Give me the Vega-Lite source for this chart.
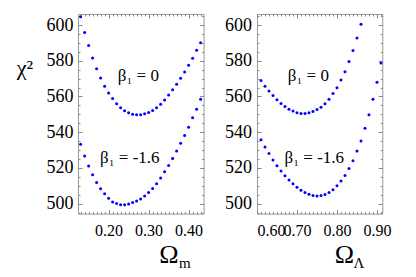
{
  "$schema": "https://vega.github.io/schema/vega-lite/v6.json",
  "padding": {"left": 15, "top": 13, "right": 5, "bottom": 3},
  "config": {
    "view": {"stroke": "#999999", "strokeWidth": 1},
    "axis": {"grid": false, "domain": false, "labelOverlap": false, "labelFont": "Liberation Serif", "labelColor": "black", "tickColor": "#888888", "tickWidth": 1, "titleFont": "Liberation Serif", "titleColor": "black", "titleFontWeight": "normal"},
    "axisX": {"labelFontSize": 16},
    "axisY": {"labelFontSize": 18},
    "text": {"font": "Liberation Serif", "color": "black"}
  },
  "datasets": {
    "left": [
      {"om": 0.13, "chi": 604.7, "beta": 0}, {"om": 0.14, "chi": 595.9, "beta": 0}, {"om": 0.15, "chi": 588.6, "beta": 0}, {"om": 0.16, "chi": 581.6, "beta": 0}, {"om": 0.17, "chi": 575.6, "beta": 0}, {"om": 0.18, "chi": 570.4, "beta": 0}, {"om": 0.19, "chi": 565.7, "beta": 0}, {"om": 0.20, "chi": 561.9, "beta": 0}, {"om": 0.21, "chi": 558.8, "beta": 0}, {"om": 0.22, "chi": 555.9, "beta": 0}, {"om": 0.23, "chi": 553.7, "beta": 0}, {"om": 0.24, "chi": 552.0, "beta": 0}, {"om": 0.25, "chi": 550.9, "beta": 0}, {"om": 0.26, "chi": 550.1, "beta": 0}, {"om": 0.27, "chi": 549.7, "beta": 0}, {"om": 0.28, "chi": 549.7, "beta": 0}, {"om": 0.29, "chi": 550.3, "beta": 0}, {"om": 0.30, "chi": 551.0, "beta": 0}, {"om": 0.31, "chi": 552.2, "beta": 0}, {"om": 0.32, "chi": 553.7, "beta": 0}, {"om": 0.33, "chi": 555.7, "beta": 0}, {"om": 0.34, "chi": 558.0, "beta": 0}, {"om": 0.35, "chi": 560.8, "beta": 0}, {"om": 0.36, "chi": 563.8, "beta": 0}, {"om": 0.37, "chi": 566.8, "beta": 0}, {"om": 0.38, "chi": 570.2, "beta": 0}, {"om": 0.39, "chi": 573.7, "beta": 0}, {"om": 0.40, "chi": 577.5, "beta": 0}, {"om": 0.41, "chi": 581.4, "beta": 0}, {"om": 0.42, "chi": 585.9, "beta": 0}, {"om": 0.43, "chi": 590.1, "beta": 0},
      {"om": 0.13, "chi": 533.2, "beta": -1.6}, {"om": 0.14, "chi": 526.7, "beta": -1.6}, {"om": 0.15, "chi": 521.0, "beta": -1.6}, {"om": 0.16, "chi": 516.1, "beta": -1.6}, {"om": 0.17, "chi": 511.8, "beta": -1.6}, {"om": 0.18, "chi": 508.3, "beta": -1.6}, {"om": 0.19, "chi": 505.5, "beta": -1.6}, {"om": 0.20, "chi": 503.0, "beta": -1.6}, {"om": 0.21, "chi": 500.9, "beta": -1.6}, {"om": 0.22, "chi": 500.0, "beta": -1.6}, {"om": 0.23, "chi": 499.3, "beta": -1.6}, {"om": 0.24, "chi": 499.3, "beta": -1.6}, {"om": 0.25, "chi": 499.8, "beta": -1.6}, {"om": 0.26, "chi": 500.6, "beta": -1.6}, {"om": 0.27, "chi": 501.5, "beta": -1.6}, {"om": 0.28, "chi": 502.6, "beta": -1.6}, {"om": 0.29, "chi": 504.2, "beta": -1.6}, {"om": 0.30, "chi": 506.2, "beta": -1.6}, {"om": 0.31, "chi": 508.4, "beta": -1.6}, {"om": 0.32, "chi": 511.1, "beta": -1.6}, {"om": 0.33, "chi": 514.3, "beta": -1.6}, {"om": 0.34, "chi": 517.8, "beta": -1.6}, {"om": 0.35, "chi": 521.4, "beta": -1.6}, {"om": 0.36, "chi": 525.3, "beta": -1.6}, {"om": 0.37, "chi": 529.5, "beta": -1.6}, {"om": 0.38, "chi": 533.8, "beta": -1.6}, {"om": 0.39, "chi": 538.1, "beta": -1.6}, {"om": 0.40, "chi": 542.8, "beta": -1.6}, {"om": 0.41, "chi": 548.1, "beta": -1.6}, {"om": 0.42, "chi": 552.9, "beta": -1.6}, {"om": 0.43, "chi": 558.4, "beta": -1.6}
    ],
    "right": [
      {"ol": 0.61, "chi": 569.0, "beta": 0}, {"ol": 0.62, "chi": 565.8, "beta": 0}, {"ol": 0.63, "chi": 563.0, "beta": 0}, {"ol": 0.64, "chi": 560.6, "beta": 0}, {"ol": 0.65, "chi": 558.2, "beta": 0}, {"ol": 0.66, "chi": 556.1, "beta": 0}, {"ol": 0.67, "chi": 554.4, "beta": 0}, {"ol": 0.68, "chi": 552.9, "beta": 0}, {"ol": 0.69, "chi": 551.8, "beta": 0}, {"ol": 0.70, "chi": 550.9, "beta": 0}, {"ol": 0.71, "chi": 550.5, "beta": 0}, {"ol": 0.72, "chi": 550.5, "beta": 0}, {"ol": 0.73, "chi": 550.9, "beta": 0}, {"ol": 0.74, "chi": 551.6, "beta": 0}, {"ol": 0.75, "chi": 552.7, "beta": 0}, {"ol": 0.76, "chi": 554.0, "beta": 0}, {"ol": 0.77, "chi": 555.9, "beta": 0}, {"ol": 0.78, "chi": 558.4, "beta": 0}, {"ol": 0.79, "chi": 561.6, "beta": 0}, {"ol": 0.80, "chi": 564.9, "beta": 0}, {"ol": 0.81, "chi": 569.2, "beta": 0}, {"ol": 0.82, "chi": 573.9, "beta": 0}, {"ol": 0.83, "chi": 579.6, "beta": 0}, {"ol": 0.84, "chi": 585.8, "beta": 0}, {"ol": 0.85, "chi": 592.7, "beta": 0}, {"ol": 0.86, "chi": 600.4, "beta": 0},
      {"ol": 0.61, "chi": 535.7, "beta": -1.6}, {"ol": 0.62, "chi": 531.7, "beta": -1.6}, {"ol": 0.63, "chi": 528.0, "beta": -1.6}, {"ol": 0.64, "chi": 524.4, "beta": -1.6}, {"ol": 0.65, "chi": 521.2, "beta": -1.6}, {"ol": 0.66, "chi": 518.2, "beta": -1.6}, {"ol": 0.67, "chi": 515.6, "beta": -1.6}, {"ol": 0.68, "chi": 513.2, "beta": -1.6}, {"ol": 0.69, "chi": 511.1, "beta": -1.6}, {"ol": 0.70, "chi": 509.2, "beta": -1.6}, {"ol": 0.71, "chi": 507.5, "beta": -1.6}, {"ol": 0.72, "chi": 506.2, "beta": -1.6}, {"ol": 0.73, "chi": 505.3, "beta": -1.6}, {"ol": 0.74, "chi": 504.5, "beta": -1.6}, {"ol": 0.75, "chi": 504.3, "beta": -1.6}, {"ol": 0.76, "chi": 504.5, "beta": -1.6}, {"ol": 0.77, "chi": 505.1, "beta": -1.6}, {"ol": 0.78, "chi": 506.2, "beta": -1.6}, {"ol": 0.79, "chi": 507.7, "beta": -1.6}, {"ol": 0.80, "chi": 510.0, "beta": -1.6}, {"ol": 0.81, "chi": 512.6, "beta": -1.6}, {"ol": 0.82, "chi": 515.8, "beta": -1.6}, {"ol": 0.83, "chi": 519.7, "beta": -1.6}, {"ol": 0.84, "chi": 524.0, "beta": -1.6}, {"ol": 0.85, "chi": 529.5, "beta": -1.6}, {"ol": 0.86, "chi": 535.1, "beta": -1.6}, {"ol": 0.87, "chi": 542.2, "beta": -1.6}, {"ol": 0.88, "chi": 549.7, "beta": -1.6}, {"ol": 0.89, "chi": 558.5, "beta": -1.6}, {"ol": 0.90, "chi": 568.0, "beta": -1.6}, {"ol": 0.91, "chi": 578.7, "beta": -1.6}
    ],
    "leftLabels": [
      {"x": 0.2743, "y": 568.6, "text": "β₁ = 0"},
      {"x": 0.253, "y": 522.6, "text": "β₁ = -1.6"}
    ],
    "leftSub": [{"x": 0.3905, "y": 464, "text": "m"}],
    "rightLabels": [
      {"x": 0.7283, "y": 568.6, "text": "β₁ = 0"},
      {"x": 0.7433, "y": 522.6, "text": "β₁ = -1.6"}
    ],
    "rightSub": [{"x": 0.855, "y": 464, "text": "Λ"}]
  },
  "spacing": 53,
  "bounds": "flush",
  "hconcat": [
    {
      "width": 125.6,
      "height": 199.6,
      "resolve": {"axis": {"x": "independent", "y": "independent"}},
      "layer": [
        {
          "data": {"name": "left"},
          "transform": [{"filter": "datum.beta == 0"}],
          "mark": {"type": "circle", "size": 9, "color": "#0000ff", "opacity": 1},
          "encoding": {
            "x": {"field": "om", "type": "quantitative", "scale": {"domain": [0.1235, 0.4375], "nice": false, "zero": false},
              "axis": {"orient": "bottom", "values": [0.2, 0.3, 0.4], "format": ".2f", "tickSize": -4, "labelPadding": 12.5, "title": "Ω", "titleFontSize": 26, "titleX": 90.5, "titleY": 49.4, "titleAlign": "center", "titleBaseline": "alphabetic"}},
            "y": {"field": "chi", "type": "quantitative", "scale": {"domain": [494.4, 606.2], "nice": false, "zero": false},
              "axis": {"orient": "left", "values": [500, 520, 540, 560, 580, 600], "tickSize": -4, "labelPadding": 9, "title": "χ²", "titleAngle": 0, "titleFontSize": 22, "titleX": -61.7, "titleY": 60.3, "titleAlign": "left", "titleBaseline": "alphabetic"}}
          }
        },
        {
          "data": {"name": "left"},
          "transform": [{"filter": "datum.beta != 0"}],
          "mark": {"type": "circle", "size": 9, "color": "#0000ff", "opacity": 1},
          "encoding": {
            "x": {"field": "om", "type": "quantitative", "scale": {"domain": [0.1235, 0.4375], "nice": false, "zero": false},
              "axis": {"orient": "bottom", "values": [0.13, 0.14, 0.15, 0.16, 0.17, 0.18, 0.19, 0.21, 0.22, 0.23, 0.24, 0.25, 0.26, 0.27, 0.28, 0.29, 0.31, 0.32, 0.33, 0.34, 0.35, 0.36, 0.37, 0.38, 0.39, 0.41, 0.42, 0.43], "tickSize": -2, "labels": false, "title": null}},
            "y": {"field": "chi", "type": "quantitative", "scale": {"domain": [494.4, 606.2], "nice": false, "zero": false},
              "axis": {"orient": "left", "values": [495, 505, 510, 515, 525, 530, 535, 545, 550, 555, 565, 570, 575, 585, 590, 595, 605], "tickSize": -2, "labels": false, "title": null}}
          }
        },
        {
          "data": {"name": "leftLabels"},
          "mark": {"type": "text", "fontSize": 17, "align": "center", "baseline": "alphabetic"},
          "encoding": {
            "x": {"field": "x", "type": "quantitative", "scale": {"domain": [0.1235, 0.4375], "nice": false, "zero": false},
              "axis": {"orient": "top", "values": [0.2, 0.3, 0.4], "tickSize": -4, "labels": false, "title": null}},
            "y": {"field": "y", "type": "quantitative", "scale": {"domain": [494.4, 606.2], "nice": false, "zero": false},
              "axis": {"orient": "right", "values": [500, 520, 540, 560, 580, 600], "tickSize": -4, "labels": false, "title": null}},
            "text": {"field": "text"}
          }
        },
        {
          "data": {"name": "leftSub"},
          "mark": {"type": "text", "fontSize": 15, "align": "center", "baseline": "alphabetic"},
          "encoding": {
            "x": {"field": "x", "type": "quantitative", "scale": {"domain": [0.1235, 0.4375], "nice": false, "zero": false},
              "axis": {"orient": "top", "values": [0.13, 0.14, 0.15, 0.16, 0.17, 0.18, 0.19, 0.21, 0.22, 0.23, 0.24, 0.25, 0.26, 0.27, 0.28, 0.29, 0.31, 0.32, 0.33, 0.34, 0.35, 0.36, 0.37, 0.38, 0.39, 0.41, 0.42, 0.43], "tickSize": -2, "labels": false, "title": null}},
            "y": {"field": "y", "type": "quantitative", "scale": {"domain": [494.4, 606.2], "nice": false, "zero": false},
              "axis": {"orient": "right", "values": [495, 505, 510, 515, 525, 530, 535, 545, 550, 555, 565, 570, 575, 585, 590, 595, 605], "tickSize": -2, "labels": false, "title": null}},
            "text": {"field": "text"}
          }
        }
      ]
    },
    {
      "width": 125.3,
      "height": 199.6,
      "resolve": {"axis": {"x": "independent", "y": "independent"}},
      "layer": [
        {
          "data": {"name": "right"},
          "transform": [{"filter": "datum.beta == 0"}],
          "mark": {"type": "circle", "size": 9, "color": "#0000ff", "opacity": 1},
          "encoding": {
            "x": {"field": "ol", "type": "quantitative", "scale": {"domain": [0.6, 0.9133], "nice": false, "zero": false},
              "axis": {"orient": "bottom", "values": [0.6, 0.7, 0.8, 0.9], "format": ".2f", "tickSize": -4, "labelPadding": 12.5, "title": "Ω", "titleFontSize": 26, "titleX": 87, "titleY": 48.5, "titleAlign": "center", "titleBaseline": "alphabetic"}},
            "y": {"field": "chi", "type": "quantitative", "scale": {"domain": [494.4, 606.2], "nice": false, "zero": false},
              "axis": {"orient": "left", "values": [500, 520, 540, 560, 580, 600], "tickSize": -4, "labelPadding": 9.5, "title": null}}
          }
        },
        {
          "data": {"name": "right"},
          "transform": [{"filter": "datum.beta != 0"}],
          "mark": {"type": "circle", "size": 9, "color": "#0000ff", "opacity": 1},
          "encoding": {
            "x": {"field": "ol", "type": "quantitative", "scale": {"domain": [0.6, 0.9133], "nice": false, "zero": false},
              "axis": {"orient": "bottom", "values": [0.61, 0.62, 0.63, 0.64, 0.65, 0.66, 0.67, 0.68, 0.69, 0.71, 0.72, 0.73, 0.74, 0.75, 0.76, 0.77, 0.78, 0.79, 0.81, 0.82, 0.83, 0.84, 0.85, 0.86, 0.87, 0.88, 0.89, 0.91], "tickSize": -2, "labels": false, "title": null}},
            "y": {"field": "chi", "type": "quantitative", "scale": {"domain": [494.4, 606.2], "nice": false, "zero": false},
              "axis": {"orient": "left", "values": [495, 505, 510, 515, 525, 530, 535, 545, 550, 555, 565, 570, 575, 585, 590, 595, 605], "tickSize": -2, "labels": false, "title": null}}
          }
        },
        {
          "data": {"name": "rightLabels"},
          "mark": {"type": "text", "fontSize": 17, "align": "center", "baseline": "alphabetic"},
          "encoding": {
            "x": {"field": "x", "type": "quantitative", "scale": {"domain": [0.6, 0.9133], "nice": false, "zero": false},
              "axis": {"orient": "top", "values": [0.6, 0.7, 0.8, 0.9], "tickSize": -4, "labels": false, "title": null}},
            "y": {"field": "y", "type": "quantitative", "scale": {"domain": [494.4, 606.2], "nice": false, "zero": false},
              "axis": {"orient": "right", "values": [500, 520, 540, 560, 580, 600], "tickSize": -4, "labels": false, "title": null}},
            "text": {"field": "text"}
          }
        },
        {
          "data": {"name": "rightSub"},
          "mark": {"type": "text", "fontSize": 15, "align": "center", "baseline": "alphabetic"},
          "encoding": {
            "x": {"field": "x", "type": "quantitative", "scale": {"domain": [0.6, 0.9133], "nice": false, "zero": false},
              "axis": {"orient": "top", "values": [0.61, 0.62, 0.63, 0.64, 0.65, 0.66, 0.67, 0.68, 0.69, 0.71, 0.72, 0.73, 0.74, 0.75, 0.76, 0.77, 0.78, 0.79, 0.81, 0.82, 0.83, 0.84, 0.85, 0.86, 0.87, 0.88, 0.89, 0.91], "tickSize": -2, "labels": false, "title": null}},
            "y": {"field": "y", "type": "quantitative", "scale": {"domain": [494.4, 606.2], "nice": false, "zero": false},
              "axis": {"orient": "right", "values": [495, 505, 510, 515, 525, 530, 535, 545, 550, 555, 565, 570, 575, 585, 590, 595, 605], "tickSize": -2, "labels": false, "title": null}},
            "text": {"field": "text"}
          }
        }
      ]
    }
  ]
}
